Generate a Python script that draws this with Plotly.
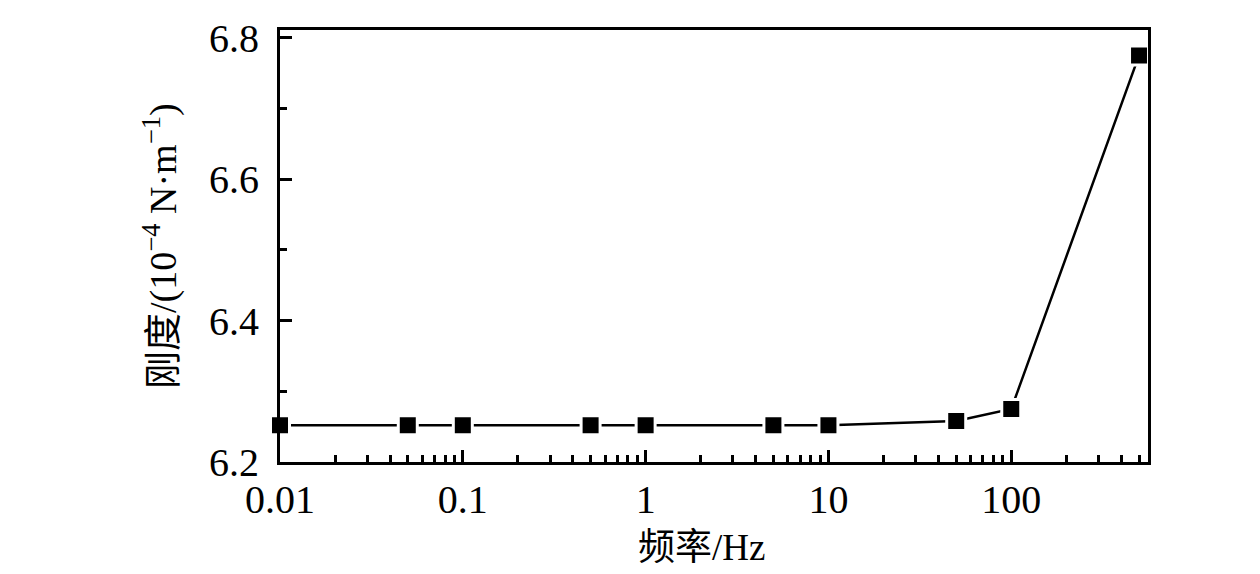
import plotly.graph_objects as go

freq = [0.01, 0.05, 0.1, 0.5, 1, 5, 10, 50, 100, 500]
stiff = [6.252, 6.252, 6.252, 6.252, 6.252, 6.252, 6.252, 6.258, 6.275, 6.775]

x_tickvals = [0.01, 0.1, 1, 10, 100]
x_ticktext = ["0.01", "0.1", "1", "10", "100"]
x_minor = [m * d for d in [0.01, 0.1, 1, 10, 100] for m in range(2, 10)]
y_tickvals = [6.2, 6.4, 6.6, 6.8]
y_ticktext = ["6.2", "6.4", "6.6", "6.8"]
y_minor = [6.3, 6.5, 6.7]

FONT = "Liberation Serif, Noto Sans CJK SC, serif"

fig = go.Figure()
fig.add_trace(go.Scatter(
    x=freq, y=stiff, mode="lines+markers",
    line=dict(color="black", width=2.5),
    marker=dict(symbol="square", size=19, color="black",
                line=dict(color="white", width=3)),
    cliponaxis=False, showlegend=False,
))

axis_common = dict(
    showline=True, linecolor="black", linewidth=3, mirror=True,
    ticks="inside", ticklen=12, tickwidth=2.5, tickcolor="black",
    showgrid=False, zeroline=False, ticklabeloverflow="allow",
    tickfont=dict(family=FONT, size=40, color="black"),
)

fig.update_xaxes(
    type="log", range=[-2, 2.748],
    tickvals=x_tickvals, ticktext=x_ticktext,
    minor=dict(ticks="inside", ticklen=7, tickwidth=2.5, tickcolor="black",
               tickvals=x_minor, showgrid=False),
    **axis_common,
)
fig.update_yaxes(
    range=[6.2, 6.811],
    tickvals=y_tickvals, ticktext=y_ticktext,
    ticklabelstandoff=10,
    minor=dict(ticks="inside", ticklen=7, tickwidth=2.5, tickcolor="black",
               tickvals=y_minor, showgrid=False),
    **axis_common,
)

fig.add_annotation(
    text="频率/Hz", xref="paper", yref="paper",
    x=(693 - 272) / 868, y=(454 - 542) / 446,
    xanchor="center", yanchor="middle", showarrow=False,
    font=dict(family=FONT, size=37, color="black"),
)
fig.add_annotation(
    text="刚度/(10<sup>−4</sup> N·m<sup>−1</sup>)", xref="paper", yref="paper",
    x=(152 - 272) / 868, y=0.5, textangle=-90,
    xanchor="center", yanchor="middle", showarrow=False,
    font=dict(family=FONT, size=38, color="black"),
)

fig.update_layout(
    width=1260, height=574,
    margin=dict(l=272, r=120, t=8, b=120),
    paper_bgcolor="white", plot_bgcolor="white",
)

fig.write_html("out.html")
